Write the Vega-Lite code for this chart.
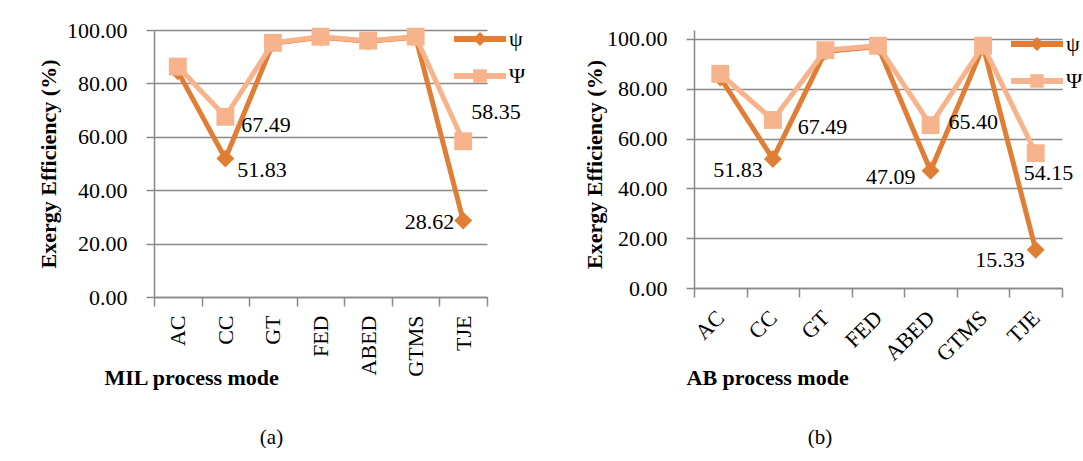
{
  "$schema": "https://vega.github.io/schema/vega-lite/v6.json",
  "padding": {"left": 36, "top": 13, "right": 0, "bottom": 0},
  "background": "white",
  "spacing": 56,
  "config": {
    "view": {"stroke": null},
    "font": "Liberation Serif",
    "axis": {
      "labelFont": "Liberation Serif", "labelFontSize": 22, "labelColor": "black",
      "titleFont": "Liberation Serif", "titleFontSize": 22, "titleFontWeight": "bold", "titleColor": "black",
      "domainColor": "#898989", "domainWidth": 1.5, "tickColor": "#898989", "tickWidth": 1.5,
      "gridColor": "#898989", "gridWidth": 1.5
    }
  },
  "datasets": {
    "mil": [
      {"process": "AC", "series": "ψ", "value": 84.5},
      {"process": "CC", "series": "ψ", "value": 51.83},
      {"process": "GT", "series": "ψ", "value": 95.0},
      {"process": "FED", "series": "ψ", "value": 97.3},
      {"process": "ABED", "series": "ψ", "value": 95.8},
      {"process": "GTMS", "series": "ψ", "value": 97.3},
      {"process": "TJE", "series": "ψ", "value": 28.62},
      {"process": "AC", "series": "Ψ", "value": 86.3},
      {"process": "CC", "series": "Ψ", "value": 67.49},
      {"process": "GT", "series": "Ψ", "value": 95.2},
      {"process": "FED", "series": "Ψ", "value": 97.5},
      {"process": "ABED", "series": "Ψ", "value": 96.0},
      {"process": "GTMS", "series": "Ψ", "value": 97.5},
      {"process": "TJE", "series": "Ψ", "value": 58.35}
    ],
    "ab": [
      {"process": "AC", "series": "ψ", "value": 84.5},
      {"process": "CC", "series": "ψ", "value": 51.83},
      {"process": "GT", "series": "ψ", "value": 95.0},
      {"process": "FED", "series": "ψ", "value": 97.0},
      {"process": "ABED", "series": "ψ", "value": 47.09},
      {"process": "GTMS", "series": "ψ", "value": 97.0},
      {"process": "TJE", "series": "ψ", "value": 15.33},
      {"process": "AC", "series": "Ψ", "value": 86.0},
      {"process": "CC", "series": "Ψ", "value": 67.49},
      {"process": "GT", "series": "Ψ", "value": 95.5},
      {"process": "FED", "series": "Ψ", "value": 97.3},
      {"process": "ABED", "series": "Ψ", "value": 65.40},
      {"process": "GTMS", "series": "Ψ", "value": 97.3},
      {"process": "TJE", "series": "Ψ", "value": 54.15}
    ]
  },
  "resolve": {"scale": {"color": "independent", "x": "independent", "y": "independent"}, "legend": {"color": "independent"}},
  "hconcat": [
    {
      "width": 333, "height": 267,
      "data": {"name": "mil"},
      "title": {"text": "(a)", "orient": "bottom", "frame": "group", "dx": -49, "offset": 39, "font": "Liberation Serif", "fontSize": 21, "fontWeight": "normal", "color": "black"},
      "encoding": {
        "x": {"field": "process", "type": "nominal", "sort": ["AC", "CC", "GT", "FED", "ABED", "GTMS", "TJE"],
          "scale": {"paddingInner": 0, "paddingOuter": 0},
          "axis": {"labelAngle": -90, "labelAlign": "right", "labelBaseline": "middle", "tickBand": "extent", "tickSize": 9, "labelPadding": 9,
            "title": "MIL process mode", "titleAnchor": "start", "titleAlign": "left", "titleX": -50, "titleY": 87, "titleBaseline": "alphabetic", "grid": false}},
        "y": {"field": "value", "type": "quantitative", "scale": {"domain": [0, 100], "nice": false},
          "axis": {"values": [0, 20, 40, 60, 80, 100], "format": ".2f", "tickSize": 8, "labelPadding": 19, "grid": true,
            "title": "Exergy Efficiency (%)", "titleX": -106, "titleBaseline": "middle"}}
      },
      "layer": [
        {"mark": {"type": "line", "strokeWidth": 5},
         "encoding": {
           "detail": {"field": "series", "type": "nominal"},
           "stroke": {"condition": {"test": "datum.series === 'ψ'", "value": "#E07E36"}, "value": "#F7B48C"}}},
        {"mark": {"type": "point", "filled": true, "size": 320, "opacity": 1},
         "encoding": {
           "shape": {"condition": {"test": "datum.series === 'ψ'", "value": "diamond"}, "value": "square"},
           "color": {"field": "series", "type": "nominal", "scale": {"domain": ["ψ", "Ψ"], "range": ["#E07E36", "#F7B48C"]},
             "legend": {"orient": "none", "legendX": 300, "legendY": -17, "title": null, "symbolSize": 2704, "rowPadding": -21, "padding": 0,
               "labelFont": "Liberation Serif", "labelFontSize": 22, "labelColor": "black", "labelOffset": 3, "symbolStrokeWidth": 0, "symbolOpacity": 1,
               "encode": {"symbols": {"update": {"shape": {"signal": "datum.value === 'ψ' ? 'M-1,-0.12H1V0.12H-1ZM0,-0.27L0.27,0L0,0.27L-0.27,0Z' : 'M-1,-0.12H1V0.12H-1ZM-0.26,-0.26H0.26V0.26H-0.26Z'"}}}}}}
         }},
        {"transform": [{"filter": "datum.process === 'CC' && datum.series === 'Ψ'"}],
         "mark": {"type": "text", "align": "left", "baseline": "middle", "dx": 16, "dy": 8, "font": "Liberation Serif", "fontSize": 22, "color": "black"},
         "encoding": {"text": {"field": "value", "type": "quantitative", "format": ".2f"}}},
        {"transform": [{"filter": "datum.process === 'CC' && datum.series === 'ψ'"}],
         "mark": {"type": "text", "align": "left", "baseline": "middle", "dx": 12, "dy": 11, "font": "Liberation Serif", "fontSize": 22, "color": "black"},
         "encoding": {"text": {"field": "value", "type": "quantitative", "format": ".2f"}}},
        {"transform": [{"filter": "datum.process === 'TJE' && datum.series === 'Ψ'"}],
         "mark": {"type": "text", "align": "left", "baseline": "middle", "dx": 8, "dy": -29, "font": "Liberation Serif", "fontSize": 22, "color": "black"},
         "encoding": {"text": {"field": "value", "type": "quantitative", "format": ".2f"}}},
        {"transform": [{"filter": "datum.process === 'TJE' && datum.series === 'ψ'"}],
         "mark": {"type": "text", "align": "right", "baseline": "middle", "dx": -9, "dy": 1, "font": "Liberation Serif", "fontSize": 22, "color": "black"},
         "encoding": {"text": {"field": "value", "type": "quantitative", "format": ".2f"}}}
      ]
    },
    {
      "width": 368, "height": 258,
      "data": {"name": "ab"},
      "title": {"text": "(b)", "orient": "bottom", "frame": "group", "dx": -58, "offset": 39, "font": "Liberation Serif", "fontSize": 21, "fontWeight": "normal", "color": "black"},
      "encoding": {
        "x": {"field": "process", "type": "nominal", "sort": ["AC", "CC", "GT", "FED", "ABED", "GTMS", "TJE"],
          "scale": {"paddingInner": 0, "paddingOuter": 0},
          "axis": {"labelAngle": -45, "labelAlign": "right", "labelBaseline": "middle", "tickBand": "extent", "tickSize": 9, "labelPadding": 17,
            "title": "AB process mode", "titleAnchor": "start", "titleAlign": "left", "titleX": -8, "titleY": 96, "titleBaseline": "alphabetic", "grid": false}},
        "y": {"field": "value", "type": "quantitative", "scale": {"domain": [0, 103.61], "nice": false},
          "axis": {"values": [0, 20, 40, 60, 80, 100], "format": ".2f", "tickSize": 8, "labelPadding": 19, "grid": true,
            "title": "Exergy Efficiency (%)", "titleX": -100, "titleY": 134, "titleBaseline": "middle"}}
      },
      "layer": [
        {"mark": {"type": "line", "strokeWidth": 5},
         "encoding": {
           "detail": {"field": "series", "type": "nominal"},
           "stroke": {"condition": {"test": "datum.series === 'ψ'", "value": "#E07E36"}, "value": "#F7B48C"}}},
        {"mark": {"type": "point", "filled": true, "size": 320, "opacity": 1},
         "encoding": {
           "shape": {"condition": {"test": "datum.series === 'ψ'", "value": "diamond"}, "value": "square"},
           "color": {"field": "series", "type": "nominal", "scale": {"domain": ["ψ", "Ψ"], "range": ["#E07E36", "#F7B48C"]},
             "legend": {"orient": "none", "legendX": 317, "legendY": -12, "title": null, "symbolSize": 2704, "rowPadding": -15, "padding": 0,
               "labelFont": "Liberation Serif", "labelFontSize": 22, "labelColor": "black", "labelOffset": 3, "symbolStrokeWidth": 0, "symbolOpacity": 1,
               "encode": {"symbols": {"update": {"shape": {"signal": "datum.value === 'ψ' ? 'M-1,-0.12H1V0.12H-1ZM0,-0.27L0.27,0L0,0.27L-0.27,0Z' : 'M-1,-0.12H1V0.12H-1ZM-0.26,-0.26H0.26V0.26H-0.26Z'"}}}}}}
         }},
        {"transform": [{"filter": "datum.process === 'CC' && datum.series === 'ψ'"}],
         "mark": {"type": "text", "align": "right", "baseline": "middle", "dx": -10, "dy": 11, "font": "Liberation Serif", "fontSize": 22, "color": "black"},
         "encoding": {"text": {"field": "value", "type": "quantitative", "format": ".2f"}}},
        {"transform": [{"filter": "datum.process === 'CC' && datum.series === 'Ψ'"}],
         "mark": {"type": "text", "align": "left", "baseline": "middle", "dx": 25, "dy": 7, "font": "Liberation Serif", "fontSize": 22, "color": "black"},
         "encoding": {"text": {"field": "value", "type": "quantitative", "format": ".2f"}}},
        {"transform": [{"filter": "datum.process === 'ABED' && datum.series === 'ψ'"}],
         "mark": {"type": "text", "align": "right", "baseline": "middle", "dx": -15, "dy": 6, "font": "Liberation Serif", "fontSize": 22, "color": "black"},
         "encoding": {"text": {"field": "value", "type": "quantitative", "format": ".2f"}}},
        {"transform": [{"filter": "datum.process === 'ABED' && datum.series === 'Ψ'"}],
         "mark": {"type": "text", "align": "left", "baseline": "middle", "dx": 18, "dy": -3, "font": "Liberation Serif", "fontSize": 22, "color": "black"},
         "encoding": {"text": {"field": "value", "type": "quantitative", "format": ".2f"}}},
        {"transform": [{"filter": "datum.process === 'TJE' && datum.series === 'Ψ'"}],
         "mark": {"type": "text", "align": "left", "baseline": "middle", "dx": -12, "dy": 20, "font": "Liberation Serif", "fontSize": 22, "color": "black"},
         "encoding": {"text": {"field": "value", "type": "quantitative", "format": ".2f"}}},
        {"transform": [{"filter": "datum.process === 'TJE' && datum.series === 'ψ'"}],
         "mark": {"type": "text", "align": "right", "baseline": "middle", "dx": -11, "dy": 10, "font": "Liberation Serif", "fontSize": 22, "color": "black"},
         "encoding": {"text": {"field": "value", "type": "quantitative", "format": ".2f"}}}
      ]
    }
  ]
}
